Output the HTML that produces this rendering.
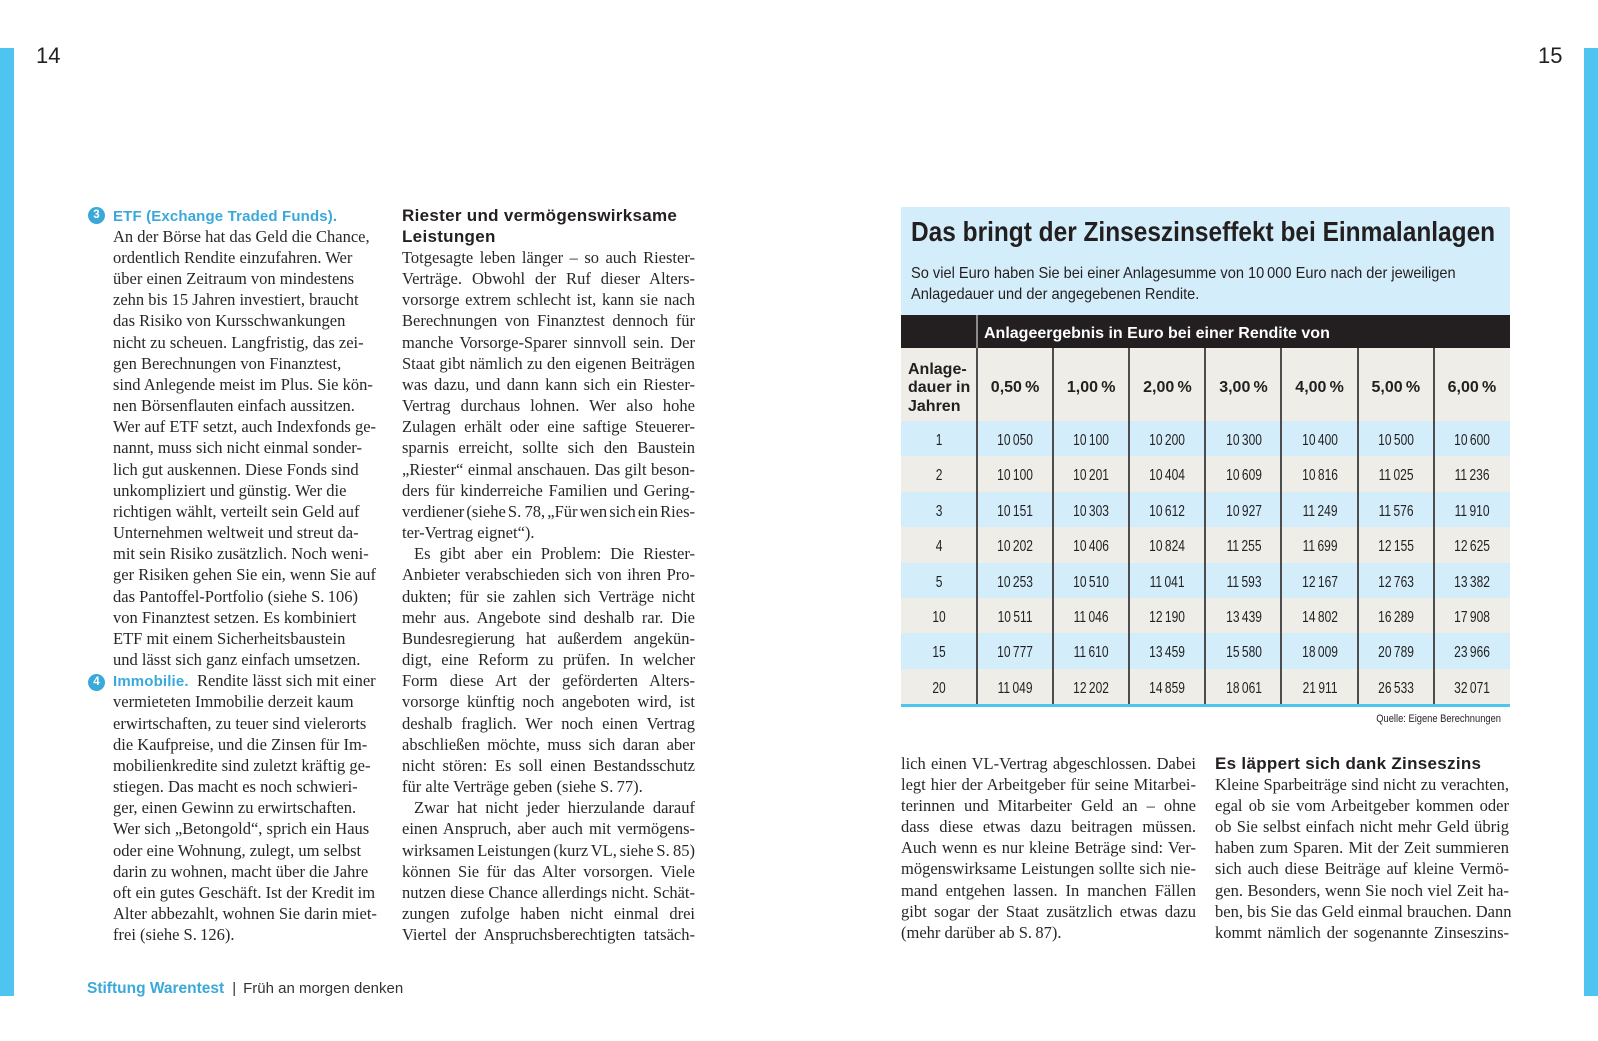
<!DOCTYPE html>
<html lang="de">
<head>
<meta charset="utf-8">
<style>
html,body{margin:0;padding:0;}
body{width:1598px;height:1041px;position:relative;overflow:hidden;background:#fff;font-family:"Liberation Sans",sans-serif;color:#231f20;}
.a{position:absolute;}
.bar{position:absolute;top:48px;width:14px;height:948px;background:#4ec4f0;}
.pn{position:absolute;top:45px;font-size:22px;line-height:22px;color:#231f20;}
.col{position:absolute;font-family:"Liberation Serif",serif;font-size:16.5px;line-height:21.18px;color:#2a2627;}
.l{height:21.18px;white-space:nowrap;}
.j{text-align:justify;text-align-last:justify;}
.h{font-family:"Liberation Sans",sans-serif;font-weight:bold;font-size:17px;letter-spacing:0.3px;color:#231f20;}
.bh{font-family:"Liberation Sans",sans-serif;font-weight:bold;font-size:15px;letter-spacing:0.15px;color:#3aa9d9;}
.circ{position:absolute;width:17px;height:17px;border-radius:50%;background:#3aa9d9;color:#fff;font-weight:bold;font-size:11.5px;line-height:17px;text-align:center;}
.row{position:absolute;left:901px;width:609px;height:35.375px;display:flex;}
.row div{width:76.125px;flex:none;text-align:center;line-height:35.375px;font-size:16px;transform:scaleX(.75);white-space:nowrap;color:#231f20;position:relative;top:2px;}
.blue{background:#d3eefa;}
.beige{background:#efede7;}
.vl{position:absolute;top:348px;width:2px;height:356px;background:#4d4d4d;}
.ph{position:absolute;top:370px;width:76px;height:35.4px;line-height:35.4px;text-align:center;font-weight:bold;font-size:16px;white-space:nowrap;}
</style>
</head>
<body>

<div class="bar" style="left:0;"></div>
<div class="bar" style="left:1584px;"></div>
<div class="pn" style="left:36px;">14</div>
<div class="pn" style="left:1538px;">15</div>

<!-- Column 1 -->
<div class="circ" style="left:88px;top:206.5px;">3</div>
<div class="circ" style="left:88px;top:673.5px;">4</div>
<div class="col" style="left:113px;top:204.5px;width:272px;">
<div class="l"><span class="bh">ETF (Exchange Traded Funds).</span></div>
<div class="l">An der Börse hat das Geld die Chance,</div>
<div class="l">ordentlich Rendite einzufahren. Wer</div>
<div class="l">über einen Zeitraum von mindestens</div>
<div class="l">zehn bis 15 Jahren investiert, braucht</div>
<div class="l">das Risiko von Kursschwankungen</div>
<div class="l">nicht zu scheuen. Langfristig, das zei-</div>
<div class="l">gen Berechnungen von Finanztest,</div>
<div class="l">sind Anlegende meist im Plus. Sie kön-</div>
<div class="l">nen Börsenflauten einfach aussitzen.</div>
<div class="l">Wer auf ETF setzt, auch Indexfonds ge-</div>
<div class="l">nannt, muss sich nicht einmal sonder-</div>
<div class="l">lich gut auskennen. Diese Fonds sind</div>
<div class="l">unkompliziert und günstig. Wer die</div>
<div class="l">richtigen wählt, verteilt sein Geld auf</div>
<div class="l">Unternehmen weltweit und streut da-</div>
<div class="l">mit sein Risiko zusätzlich. Noch weni-</div>
<div class="l">ger Risiken gehen Sie ein, wenn Sie auf</div>
<div class="l">das Pantoffel-Portfolio (siehe S.&#8201;106)</div>
<div class="l">von Finanztest setzen. Es kombiniert</div>
<div class="l">ETF mit einem Sicherheitsbaustein</div>
<div class="l">und lässt sich ganz einfach umsetzen.</div>
<div class="l"><span class="bh">Immobilie.</span>&nbsp; Rendite lässt sich mit einer</div>
<div class="l">vermieteten Immobilie derzeit kaum</div>
<div class="l">erwirtschaften, zu teuer sind vielerorts</div>
<div class="l">die Kaufpreise, und die Zinsen für Im-</div>
<div class="l">mobilienkredite sind zuletzt kräftig ge-</div>
<div class="l">stiegen. Das macht es noch schwieri-</div>
<div class="l">ger, einen Gewinn zu erwirtschaften.</div>
<div class="l">Wer sich „Betongold“, sprich ein Haus</div>
<div class="l">oder eine Wohnung, zulegt, um selbst</div>
<div class="l">darin zu wohnen, macht über die Jahre</div>
<div class="l">oft ein gutes Geschäft. Ist der Kredit im</div>
<div class="l">Alter abbezahlt, wohnen Sie darin miet-</div>
<div class="l">frei (siehe S.&#8201;126).</div>
</div>

<!-- Column 2 -->
<div class="col" style="left:402px;top:204.5px;width:293px;">
<div class="l"><span class="h">Riester und vermögenswirksame</span></div>
<div class="l"><span class="h">Leistungen</span></div>
<div class="l j">Totgesagte leben länger – so auch Riester-</div>
<div class="l j">Verträge. Obwohl der Ruf dieser Alters-</div>
<div class="l j">vorsorge extrem schlecht ist, kann sie nach</div>
<div class="l j">Berechnungen von Finanztest dennoch für</div>
<div class="l j">manche Vorsorge-Sparer sinnvoll sein. Der</div>
<div class="l j" style="word-spacing:-0.5px;">Staat gibt nämlich zu den eigenen Beiträgen</div>
<div class="l j">was dazu, und dann kann sich ein Riester-</div>
<div class="l j">Vertrag durchaus lohnen. Wer also hohe</div>
<div class="l j">Zulagen erhält oder eine saftige Steuerer-</div>
<div class="l j">sparnis erreicht, sollte sich den Baustein</div>
<div class="l j">„Riester“ einmal anschauen. Das gilt beson-</div>
<div class="l j">ders für kinderreiche Familien und Gering-</div>
<div class="l j" style="word-spacing:-2.2px;">verdiener (siehe S.&#8201;78, „Für wen sich ein Ries-</div>
<div class="l">ter-Vertrag eignet“).</div>
<div class="l j" style="padding-left:12px;">Es gibt aber ein Problem: Die Riester-</div>
<div class="l j">Anbieter verabschieden sich von ihren Pro-</div>
<div class="l j">dukten; für sie zahlen sich Verträge nicht</div>
<div class="l j">mehr aus. Angebote sind deshalb rar. Die</div>
<div class="l j">Bundesregierung hat außerdem angekün-</div>
<div class="l j">digt, eine Reform zu prüfen. In welcher</div>
<div class="l j">Form diese Art der geförderten Alters-</div>
<div class="l j">vorsorge künftig noch angeboten wird, ist</div>
<div class="l j">deshalb fraglich. Wer noch einen Vertrag</div>
<div class="l j">abschließen möchte, muss sich daran aber</div>
<div class="l j">nicht stören: Es soll einen Bestandsschutz</div>
<div class="l">für alte Verträge geben (siehe S.&#8201;77).</div>
<div class="l j" style="padding-left:12px;">Zwar hat nicht jeder hierzulande darauf</div>
<div class="l j">einen Anspruch, aber auch mit vermögens-</div>
<div class="l j" style="word-spacing:-1.6px;">wirksamen Leistungen (kurz VL, siehe S.&#8201;85)</div>
<div class="l j">können Sie für das Alter vorsorgen. Viele</div>
<div class="l j">nutzen diese Chance allerdings nicht. Schät-</div>
<div class="l j">zungen zufolge haben nicht einmal drei</div>
<div class="l j">Viertel der Anspruchsberechtigten tatsäch-</div>
</div>

<!-- Table box -->
<div class="a" style="left:901px;top:207px;width:609px;height:108px;background:#d3eefa;"></div>
<div class="a" style="left:911px;top:218.3px;font-size:28px;line-height:28px;font-weight:bold;white-space:nowrap;transform:scaleX(.873);transform-origin:0 0;color:#231f20;">Das bringt der Zinseszinseffekt bei Einmalanlagen</div>
<div class="a" style="left:911px;top:264px;font-size:16px;line-height:20.7px;white-space:nowrap;transform:scaleX(.913);transform-origin:0 0;color:#231f20;">So viel Euro haben Sie bei einer Anlagesumme von 10&#8201;000 Euro nach der jeweiligen<br>Anlagedauer und der angegebenen Rendite.</div>

<div class="a" style="left:901px;top:315px;width:609px;height:33px;background:#231f20;"></div>
<div class="a" style="left:976px;top:315px;width:2px;height:33px;background:#8c8c8c;"></div>
<div class="a" style="left:984px;top:317px;height:33px;line-height:33px;font-size:16px;font-weight:bold;color:#fff;white-space:nowrap;">Anlageergebnis in Euro bei einer Rendite von</div>

<div class="a beige" style="left:901px;top:348px;width:609px;height:73px;"></div>
<div class="a" style="left:908px;top:360.75px;font-size:16px;line-height:18.5px;font-weight:bold;white-space:nowrap;">Anlage-<br>dauer in<br>Jahren</div>
<div class="ph" style="left:977.1px;">0,50&#8201;%</div>
<div class="ph" style="left:1053.2px;">1,00&#8201;%</div>
<div class="ph" style="left:1129.4px;">2,00&#8201;%</div>
<div class="ph" style="left:1205.5px;">3,00&#8201;%</div>
<div class="ph" style="left:1281.6px;">4,00&#8201;%</div>
<div class="ph" style="left:1357.8px;">5,00&#8201;%</div>
<div class="ph" style="left:1433.9px;">6,00&#8201;%</div>

<div class="row blue" style="top:421px;"><div>1</div><div>10&#8201;050</div><div>10&#8201;100</div><div>10&#8201;200</div><div>10&#8201;300</div><div>10&#8201;400</div><div>10&#8201;500</div><div>10&#8201;600</div></div>
<div class="row beige" style="top:456.375px;"><div>2</div><div>10&#8201;100</div><div>10&#8201;201</div><div>10&#8201;404</div><div>10&#8201;609</div><div>10&#8201;816</div><div>11&#8201;025</div><div>11&#8201;236</div></div>
<div class="row blue" style="top:491.75px;"><div>3</div><div>10&#8201;151</div><div>10&#8201;303</div><div>10&#8201;612</div><div>10&#8201;927</div><div>11&#8201;249</div><div>11&#8201;576</div><div>11&#8201;910</div></div>
<div class="row beige" style="top:527.125px;"><div>4</div><div>10&#8201;202</div><div>10&#8201;406</div><div>10&#8201;824</div><div>11&#8201;255</div><div>11&#8201;699</div><div>12&#8201;155</div><div>12&#8201;625</div></div>
<div class="row blue" style="top:562.5px;"><div>5</div><div>10&#8201;253</div><div>10&#8201;510</div><div>11&#8201;041</div><div>11&#8201;593</div><div>12&#8201;167</div><div>12&#8201;763</div><div>13&#8201;382</div></div>
<div class="row beige" style="top:597.875px;"><div>10</div><div>10&#8201;511</div><div>11&#8201;046</div><div>12&#8201;190</div><div>13&#8201;439</div><div>14&#8201;802</div><div>16&#8201;289</div><div>17&#8201;908</div></div>
<div class="row blue" style="top:633.25px;"><div>15</div><div>10&#8201;777</div><div>11&#8201;610</div><div>13&#8201;459</div><div>15&#8201;580</div><div>18&#8201;009</div><div>20&#8201;789</div><div>23&#8201;966</div></div>
<div class="row beige" style="top:668.625px;"><div>20</div><div>11&#8201;049</div><div>12&#8201;202</div><div>14&#8201;859</div><div>18&#8201;061</div><div>21&#8201;911</div><div>26&#8201;533</div><div>32&#8201;071</div></div>

<div class="vl" style="left:976px;"></div>
<div class="vl" style="left:1052px;"></div>
<div class="vl" style="left:1128px;"></div>
<div class="vl" style="left:1204px;"></div>
<div class="vl" style="left:1280px;"></div>
<div class="vl" style="left:1356.5px;"></div>
<div class="vl" style="left:1433px;"></div>
<div class="a" style="left:901px;top:704px;width:609px;height:3px;background:#4ec4f0;"></div>

<div class="a" style="left:1300px;top:712.5px;width:201px;text-align:right;font-size:11px;line-height:13px;white-space:nowrap;transform:scaleX(.85);transform-origin:100% 0;color:#231f20;">Quelle: Eigene Berechnungen</div>

<!-- Column 3 -->
<div class="col" style="left:901px;top:752.5px;width:295px;">
<div class="l j">lich einen VL-Vertrag abgeschlossen. Dabei</div>
<div class="l j">legt hier der Arbeitgeber für seine Mitarbei-</div>
<div class="l j">terinnen und Mitarbeiter Geld an – ohne</div>
<div class="l j">dass diese etwas dazu beitragen müssen.</div>
<div class="l j">Auch wenn es nur kleine Beträge sind: Ver-</div>
<div class="l j" style="word-spacing:-0.5px;">mögenswirksame Leistungen sollte sich nie-</div>
<div class="l j">mand entgehen lassen. In manchen Fällen</div>
<div class="l j">gibt sogar der Staat zusätzlich etwas dazu</div>
<div class="l">(mehr darüber ab S.&#8201;87).</div>
</div>

<!-- Column 4 -->
<div class="col" style="left:1215px;top:752.5px;width:294px;">
<div class="l"><span class="h">Es läppert sich dank Zinseszins</span></div>
<div class="l j">Kleine Sparbeiträge sind nicht zu verachten,</div>
<div class="l j">egal ob sie vom Arbeitgeber kommen oder</div>
<div class="l j">ob Sie selbst einfach nicht mehr Geld übrig</div>
<div class="l j">haben zum Sparen. Mit der Zeit summieren</div>
<div class="l j">sich auch diese Beiträge auf kleine Vermö-</div>
<div class="l j">gen. Besonders, wenn Sie noch viel Zeit ha-</div>
<div class="l j">ben, bis Sie das Geld einmal brauchen. Dann</div>
<div class="l j">kommt nämlich der sogenannte Zinseszins-</div>
</div>

<!-- Footer -->
<div class="a" style="left:87px;top:980px;font-size:15px;line-height:18px;white-space:nowrap;color:#333;"><span style="font-weight:bold;font-size:15.5px;color:#3aa9d9;">Stiftung Warentest</span><span style="margin:0 7px 0 8px;">|</span>Früh an morgen denken</div>

</body>
</html>
